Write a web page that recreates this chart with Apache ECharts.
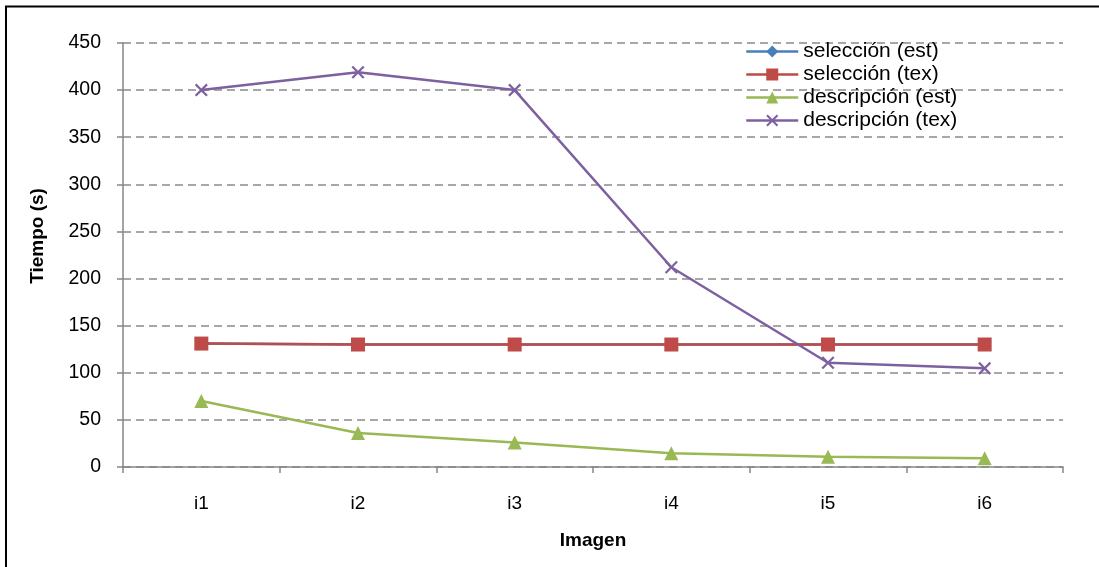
<!DOCTYPE html>
<html>
<head>
<meta charset="utf-8">
<script src="https://cdn.jsdelivr.net/npm/echarts@6/dist/echarts.min.js"></script>
<style>
html,body{margin:0;padding:0;background:#fff;}
#c{width:1099px;height:567px;}
</style>
</head>
<body>
<div id="c"></div>
<script>
const categories = ['i1','i2','i3','i4','i5','i6'];
const seleccionEst = [131, 130, 130, 130, 130, 130];
const seleccionTex = [131, 130, 130, 130, 130, 130];
const descripcionEst = [70, 36, 26, 14.5, 11, 9.2];
const descripcionTex = [400, 419, 400, 212, 110.7, 104.7];
const seriesNames = ['selección (est)', 'selección (tex)', 'descripción (est)', 'descripción (tex)'];
const yTicks = {min: 0, max: 450, interval: 50};

const FONT = '"Liberation Sans", Arial, sans-serif';
const xPath = 'path://M0,1.2 L1.2,0 L5,3.8 L8.8,0 L10,1.2 L6.2,5 L10,8.8 L8.8,10 L5,6.2 L1.2,10 L0,8.8 L3.8,5 Z';

const chart = echarts.init(document.getElementById('c'), null, {renderer: 'canvas'});
function mk(name, data, color, symbol, size) {
  return {
    name: name, type: 'line', data: data,
    symbol: symbol, symbolSize: size, showAllSymbol: true,
    lineStyle: {color: color, width: 2.5},
    itemStyle: {color: color},
    emphasis: {disabled: true},
    animation: false
  };
}
chart.setOption({
  backgroundColor: '#fff',
  animation: false,
  textStyle: {fontFamily: FONT},
  graphic: [
    {type: 'line', shape: {x1: 5, y1: 6.5, x2: 1099, y2: 6.5}, style: {stroke: '#000', lineWidth: 2}},
    {type: 'line', shape: {x1: 6, y1: 6, x2: 6, y2: 567}, style: {stroke: '#000', lineWidth: 2}}
  ],
  grid: {left: 123, right: 36, top: 43, bottom: 100, containLabel: false},
  legend: {
    orient: 'vertical', left: 745, top: 41, padding: 0,
    itemWidth: 52, itemHeight: 15, itemGap: 2,
    data: seriesNames,
    lineStyle: {width: 2.5},
    textStyle: {fontFamily: FONT, fontSize: 21, color: '#000'}
  },
  xAxis: {
    type: 'category', data: categories, boundaryGap: true,
    name: 'Imagen', nameLocation: 'middle', nameGap: 64,
    nameTextStyle: {fontFamily: FONT, fontSize: 19, fontWeight: 'bold', color: '#000'},
    axisLine: {lineStyle: {color: '#868686', width: 1.5}},
    axisTick: {show: true, length: 6, alignWithLabel: false, lineStyle: {color: '#868686', width: 1.5}},
    axisLabel: {fontFamily: FONT, fontSize: 19, color: '#000', margin: 27},
    splitLine: {show: false}
  },
  yAxis: {
    type: 'value', min: yTicks.min, max: yTicks.max, interval: yTicks.interval,
    name: 'Tiempo (s)', nameLocation: 'middle', nameGap: 76, nameRotate: 90,
    nameTextStyle: {fontFamily: FONT, fontSize: 19, fontWeight: 'bold', color: '#000', padding: [0, 0, 0, 38]},
    axisLine: {show: true, lineStyle: {color: '#868686', width: 1.5}},
    axisTick: {show: true, length: 6, lineStyle: {color: '#868686', width: 1.5}},
    axisLabel: {fontFamily: FONT, fontSize: 19.5, color: '#000', margin: 22},
    splitLine: {show: true, lineStyle: {color: '#8a8a8a', width: 1.5, type: [8, 5]}}
  },
  series: [
    mk(seriesNames[0], seleccionEst, '#4a7ebb', 'diamond', 12),
    mk(seriesNames[1], seleccionTex, '#be4b48', 'rect', 14),
    mk(seriesNames[2], descripcionEst, '#98b954', 'triangle', 14),
    mk(seriesNames[3], descripcionTex, '#7d60a0', xPath, 13)
  ]
});
</script>
</body>
</html>
